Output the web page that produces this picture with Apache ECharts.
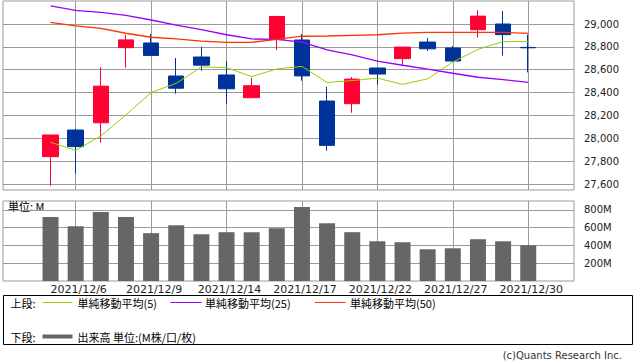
<!DOCTYPE html>
<html>
<head>
<meta charset="utf-8">
<script src="https://cdn.jsdelivr.net/npm/echarts@6/dist/echarts.min.js"></script>
<style>
html,body{margin:0;padding:0;background:#fff;}
#c{width:638px;height:362px;}
</style>
</head>
<body>
<div id="c"></div>
<script>
// ---- data ----
const dates = ['2021/12/3','2021/12/6','2021/12/7','2021/12/8','2021/12/9','2021/12/10','2021/12/13','2021/12/14','2021/12/15','2021/12/16','2021/12/17','2021/12/20','2021/12/21','2021/12/22','2021/12/23','2021/12/24','2021/12/27','2021/12/28','2021/12/29','2021/12/30'];
const openV  = [27839, 28072, 28136, 28793, 28834, 28545, 28711, 28554, 28355, 28866, 28860, 28326, 28303, 28615, 28697, 28842, 28790, 28950, 29000, 28795];
const closeV = [28029, 27927, 28456, 28861, 28725, 28438, 28640, 28433, 28460, 29066, 28546, 27938, 28518, 28562, 28798, 28783, 28676, 29069, 28907, 28792];
const lowV   = [27585, 27690, 27961, 28618, 28723, 28390, 28591, 28300, 28355, 28772, 28504, 27891, 28224, 28469, 28639, 28764, 28670, 28880, 28723, 28577];
const highV  = [28029, 28081, 28624, 28906, 28912, 28702, 28801, 28676, 28530, 29070, 28912, 28449, 28536, 28615, 28799, 28877, 28807, 29122, 29114, 28906];
const ma5  = [27965, 27894, 28020, 28205, 28400, 28481, 28624, 28619, 28539, 28607, 28629, 28488, 28505, 28526, 28472, 28520, 28667, 28778, 28847, 28845];
const ma25 = [29158, 29120, 29102, 29076, 29035, 28991, 28950, 28906, 28869, 28866, 28842, 28773, 28729, 28676, 28639, 28606, 28569, 28534, 28513, 28490];
const ma50 = [29015, 28983, 28962, 28919, 28884, 28869, 28851, 28840, 28840, 28866, 28893, 28895, 28901, 28906, 28921, 28927, 28927, 28927, 28927, 28918];
const volume = [719, 617, 775, 719, 538, 628, 526, 549, 549, 594, 832, 651, 549, 447, 436, 357, 368, 470, 447, 402];
const xTickDates = ['2021/12/6','2021/12/9','2021/12/14','2021/12/17','2021/12/22','2021/12/27','2021/12/30'];
const priceTicks = [27600, 27800, 28000, 28200, 28400, 28600, 28800, 29000];
const volTicks = [200, 400, 600, 800];
const legendNames = ['単純移動平均(5)', '単純移動平均(25)', '単純移動平均(50)', '出来高 単位:(M株/口/枚)'];

// ---- build ----
const xTickIdx = xTickDates.map(d => dates.indexOf(d));
const candleData = dates.map((d, i) => [i, openV[i], closeV[i], lowV[i], highV[i]]);
const toXY = arr => arr.map((v, i) => [i, v]);

const GRID = '#9a9a9a';
const FONT_NUM = 'DejaVu Sans';
const FONT_JP = '"Noto Sans CJK JP"';
const xMin = -1.89, xMax = 20.82;

const chart = echarts.init(document.getElementById('c'), null, {renderer: 'svg'});
chart.setOption({
  animation: false,
  backgroundColor: '#fff',
  grid: [
    {left: 3, top: 1, width: 571, height: 189, show: true, borderColor: GRID, borderWidth: 1},
    {left: 3, top: 201, width: 571, height: 80, show: true, borderColor: GRID, borderWidth: 1}
  ],
  xAxis: [
    {type: 'value', gridIndex: 0, min: xMin, max: xMax,
     axisLine: {show: false}, axisLabel: {show: false},
     axisTick: {show: false, customValues: xTickIdx},
     splitLine: {show: true, lineStyle: {color: GRID, width: 1}}},
    {type: 'value', gridIndex: 1, min: xMin, max: xMax,
     axisLine: {show: false},
     axisTick: {show: false, customValues: xTickIdx},
     axisLabel: {show: true, customValues: xTickIdx, margin: 3, padding: [0, 0, 0, 6],
                 formatter: v => dates[Math.round(v)] || '',
                 fontFamily: FONT_NUM, fontSize: 11, color: '#222'},
     splitLine: {show: true, lineStyle: {color: GRID, width: 1}}}
  ],
  yAxis: [
    {type: 'value', gridIndex: 0, position: 'right', min: 27547.5, max: 29201.25,
     axisLine: {show: false},
     axisTick: {show: true, length: 4, customValues: priceTicks, lineStyle: {color: GRID}},
     axisLabel: {customValues: priceTicks, margin: 10, fontFamily: FONT_NUM, fontSize: 10, color: '#222',
                 formatter: v => v.toLocaleString('en-US')},
     splitLine: {show: true, lineStyle: {color: GRID, width: 1}}},
    {type: 'value', gridIndex: 1, position: 'right', min: 0, max: 900,
     axisLine: {show: false},
     axisTick: {show: true, length: 4, customValues: volTicks, lineStyle: {color: GRID}},
     axisLabel: {customValues: volTicks, margin: 10, fontFamily: FONT_NUM, fontSize: 10, color: '#222',
                 formatter: v => v + 'M'},
     splitLine: {show: true, lineStyle: {color: GRID, width: 1}}}
  ],
  series: [
    {type: 'candlestick', xAxisIndex: 0, yAxisIndex: 0, barWidth: 16, data: candleData,
     itemStyle: {color: '#ff0033', color0: '#003399', borderColor: '#ff0033', borderColor0: '#003399', borderWidth: 1}},
    {type: 'line', name: legendNames[0], xAxisIndex: 0, yAxisIndex: 0, data: toXY(ma5), showSymbol: false, symbol: 'none',
     lineStyle: {color: '#99cc00', width: 1}},
    {type: 'line', name: legendNames[1], xAxisIndex: 0, yAxisIndex: 0, data: toXY(ma25), showSymbol: false, symbol: 'none',
     lineStyle: {color: '#9900ff', width: 1.3}},
    {type: 'line', name: legendNames[2], xAxisIndex: 0, yAxisIndex: 0, data: toXY(ma50), showSymbol: false, symbol: 'none',
     lineStyle: {color: '#ff3300', width: 1.3}},
    {type: 'bar', name: legendNames[3], xAxisIndex: 1, yAxisIndex: 1, barWidth: 16, data: toXY(volume),
     itemStyle: {color: '#666666'}}
  ],
  graphic: [
    {type: 'text', left: 8, top: 200, style: {text: '単位: M', font: '11px ' + FONT_JP, fill: '#000'}},
    {type: 'rect', shape: {x: 3.5, y: 295.5, width: 629, height: 49}, style: {fill: 'none', stroke: '#000', lineWidth: 1}},
    {type: 'text', x: 10.5, y: 302.5, style: {text: '上段:', font: '11px ' + FONT_JP, fill: '#000', verticalAlign: 'middle'}},
    {type: 'line', shape: {x1: 42.5, y1: 302.5, x2: 72.5, y2: 302.5}, style: {stroke: '#99cc00', lineWidth: 1}},
    {type: 'text', x: 77.5, y: 302.5, style: {text: legendNames[0], font: '11px ' + FONT_JP, fill: '#000', verticalAlign: 'middle'}},
    {type: 'line', shape: {x1: 170.5, y1: 302.5, x2: 201.5, y2: 302.5}, style: {stroke: '#9900ff', lineWidth: 1}},
    {type: 'text', x: 205, y: 302.5, style: {text: legendNames[1], font: '11px ' + FONT_JP, fill: '#000', verticalAlign: 'middle'}},
    {type: 'line', shape: {x1: 315, y1: 302.5, x2: 345.5, y2: 302.5}, style: {stroke: '#ff3300', lineWidth: 1}},
    {type: 'text', x: 350, y: 302.5, style: {text: legendNames[2], font: '11px ' + FONT_JP, fill: '#000', verticalAlign: 'middle'}},
    {type: 'text', x: 10.5, y: 336.5, style: {text: '下段:', font: '11px ' + FONT_JP, fill: '#000', verticalAlign: 'middle'}},
    {type: 'line', shape: {x1: 42.5, y1: 336.5, x2: 72.5, y2: 336.5}, style: {stroke: '#666666', lineWidth: 4}},
    {type: 'text', x: 77.5, y: 336.5, style: {text: legendNames[3], font: '11px ' + FONT_JP, fill: '#000', verticalAlign: 'middle'}},
    {type: 'text', right: 16, top: 350, style: {text: '(c)Quants Research Inc.', font: '10px "DejaVu Sans"', fill: '#333'}}
  ]
});
</script>
</body>
</html>
